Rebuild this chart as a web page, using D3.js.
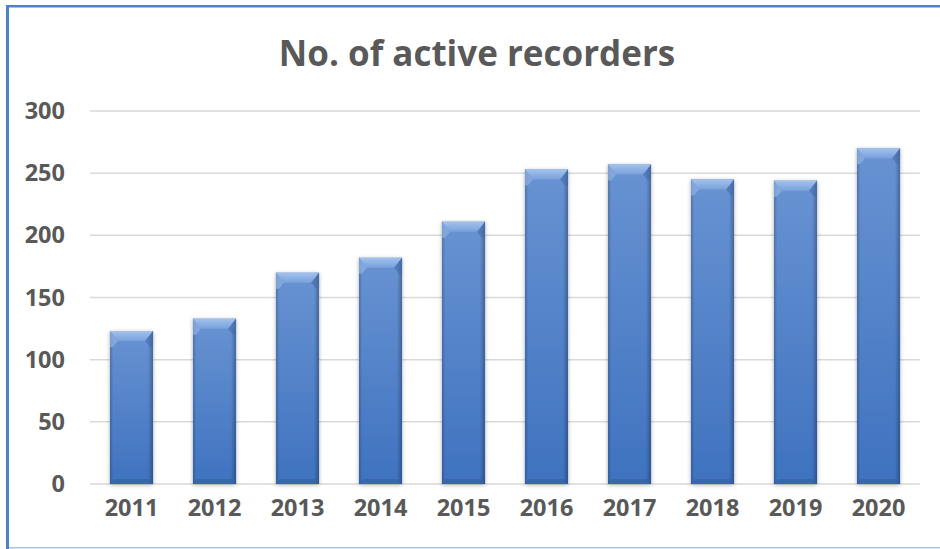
<!DOCTYPE html>
<html>
<head>
<meta charset="utf-8">
<script src="https://cdn.jsdelivr.net/npm/d3@7"></script>
<style>
  html, body { margin: 0; padding: 0; background: #fff; }
  svg { display: block; }
</style>
</head>
<body>
<svg id="chart" width="940" height="549"></svg>
<script>
// Active recorders per year
const years = ["2011", "2012", "2013", "2014", "2015", "2016", "2017", "2018", "2019", "2020"];
const recorders = [123, 133, 170, 182, 211, 253, 257, 245, 244, 270];
const yTicks = [0, 50, 100, 150, 200, 250, 300];
const chartTitle = "No. of active recorders";

const W = 940, H = 549;
const margin = { left: 90, right: 20, top: 111, bottom: 65 };
const svg = d3.select("#chart");
const textColor = "#595959";
const fontFamily = "'Open Sans', 'DejaVu Sans', sans-serif";

// Frame
svg.append("rect").attr("x", 6).attr("y", 5).attr("width", 3).attr("height", H - 5).attr("fill", "#4f81c3");
svg.append("rect").attr("x", 6).attr("y", 5).attr("width", W - 6).attr("height", 2.5).attr("fill", "#4f81c3");
svg.append("rect").attr("x", 9).attr("y", 547).attr("width", W - 9).attr("height", 1.5).attr("fill", "#a9c3e6");

const x = d3.scaleBand().domain(years).range([margin.left, W - margin.right]).paddingInner(0.48).paddingOuter(0.24);
const y = d3.scaleLinear().domain([0, 300]).range([H - margin.bottom, margin.top]);

// Gridlines
svg.append("g").selectAll("line").data(yTicks).join("line")
  .attr("x1", margin.left).attr("x2", W - margin.right)
  .attr("y1", d => y(d)).attr("y2", d => y(d))
  .attr("stroke", "#d9d9d9").attr("stroke-width", 1.5);

// Y axis labels
const yAxis = d3.axisLeft(y).tickValues(yTicks).tickSize(0).tickPadding(25);
svg.append("g").attr("transform", `translate(${margin.left},0)`).call(yAxis)
  .call(g => g.select(".domain").remove())
  .selectAll("text")
  .attr("fill", textColor).attr("font-family", fontFamily)
  .attr("font-size", 23.5).attr("font-weight", 700);

// X axis labels
const xAxis = d3.axisBottom(x).tickSize(0).tickPadding(15);
svg.append("g").attr("transform", `translate(0,${y(0)})`).call(xAxis)
  .call(g => g.select(".domain").remove())
  .selectAll("text")
  .attr("fill", textColor).attr("font-family", fontFamily)
  .attr("font-size", 23.5).attr("font-weight", 700);

// Defs: gradients and shadow
const defs = svg.append("defs");
const body = defs.append("linearGradient").attr("id", "barBody").attr("x1", 0).attr("y1", 0).attr("x2", 0).attr("y2", 1);
body.append("stop").attr("offset", "0%").attr("stop-color", "#6893d2");
body.append("stop").attr("offset", "100%").attr("stop-color", "#3f72bf");
const side = defs.append("linearGradient").attr("id", "barSide").attr("x1", 0).attr("y1", 0).attr("x2", 1).attr("y2", 0);
side.append("stop").attr("offset", "0%").attr("stop-color", "#000").attr("stop-opacity", 0.2);
side.append("stop").attr("offset", "8%").attr("stop-color", "#000").attr("stop-opacity", 0);
side.append("stop").attr("offset", "88%").attr("stop-color", "#000").attr("stop-opacity", 0);
side.append("stop").attr("offset", "100%").attr("stop-color", "#000").attr("stop-opacity", 0.28);
const topG = defs.append("linearGradient").attr("id", "barTop").attr("x1", 0).attr("y1", 0).attr("x2", 0).attr("y2", 1);
topG.append("stop").attr("offset", "0%").attr("stop-color", "#a4c2ec");
topG.append("stop").attr("offset", "100%").attr("stop-color", "#78a1dc");
const shadow = defs.append("filter").attr("id", "barShadow").attr("x", "-30%").attr("y", "-10%").attr("width", "160%").attr("height", "120%");
shadow.append("feDropShadow").attr("dx", 0).attr("dy", 1).attr("stdDeviation", 2.2)
  .attr("flood-color", "#000").attr("flood-opacity", 0.3);

// Bars
const bw = x.bandwidth();
const bars = svg.append("g").selectAll("g").data(years.map((yr, i) => ({ yr, v: recorders[i] }))).join("g");
bars.append("rect")
  .attr("x", d => x(d.yr)).attr("y", d => y(d.v))
  .attr("width", bw).attr("height", d => y(0) - y(d.v))
  .attr("fill", "url(#barBody)").attr("filter", "url(#barShadow)");
bars.append("rect")
  .attr("x", d => x(d.yr)).attr("y", d => y(d.v))
  .attr("width", bw).attr("height", d => y(0) - y(d.v))
  .attr("fill", "url(#barSide)");
// top bevel
bars.append("path")
  .attr("d", d => {
    const x0 = x(d.yr), x1 = x0 + bw, t = y(d.v);
    return `M${x0},${t}L${x1},${t}L${x1 - 8},${t + 10}L${x0 + 8},${t + 10}Z`;
  })
  .attr("fill", "url(#barTop)");
// side shading below the top bevel
bars.append("path")
  .attr("d", d => {
    const x0 = x(d.yr), x1 = x0 + bw, t = y(d.v);
    return `M${x1},${t}L${x1 - 8},${t + 10}L${x1 - 3},${t + 16}L${x1},${t + 16}Z`;
  })
  .attr("fill", "#3f6aa8").attr("opacity", 0.55);
bars.append("path")
  .attr("d", d => {
    const x0 = x(d.yr), t = y(d.v);
    return `M${x0},${t}L${x0 + 8},${t + 10}L${x0 + 3},${t + 16}L${x0},${t + 16}Z`;
  })
  .attr("fill", "#8fb1e0").attr("opacity", 0.7);
// bottom bevel
bars.append("path")
  .attr("d", d => {
    const x0 = x(d.yr), x1 = x0 + bw, b = y(0);
    return `M${x0},${b}L${x1},${b}L${x1 - 4},${b - 5}L${x0 + 4},${b - 5}Z`;
  })
  .attr("fill", "#34619f").attr("opacity", 0.6);

// Title
svg.append("text")
  .attr("x", 477).attr("y", 66).attr("text-anchor", "middle")
  .attr("fill", textColor).attr("font-family", fontFamily)
  .attr("font-size", 35).attr("font-weight", 700)
  .text(chartTitle);
</script>
</body>
</html>
